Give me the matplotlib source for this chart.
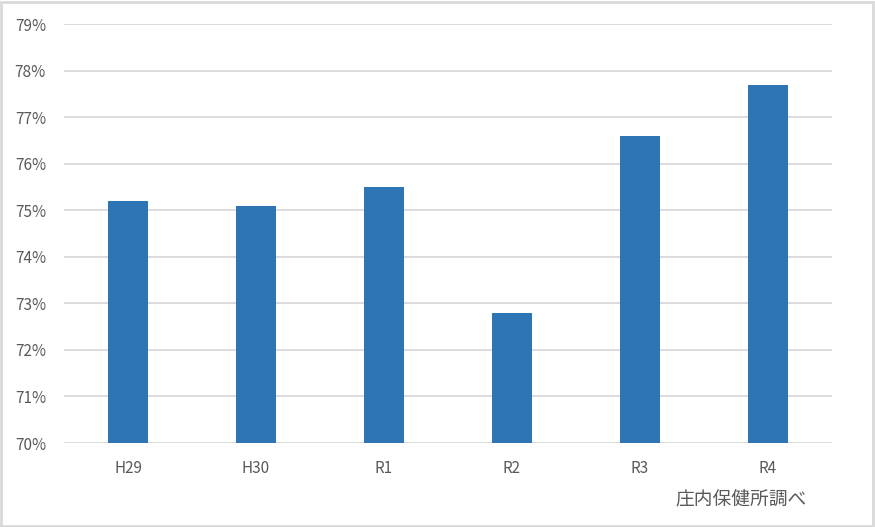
import matplotlib
matplotlib.use('Agg')
import matplotlib.pyplot as plt
from matplotlib.patches import Rectangle
from matplotlib.ticker import FuncFormatter

plt.rcParams['font.family'] = ['Noto Sans CJK JP', 'DejaVu Sans']

# ── データ ────────────────────────────────
years = ["H29", "H30", "R1", "R2", "R3", "R4"]
rates = [75.2, 75.1, 75.5, 72.8, 76.6, 77.7]   # %
source_note = "庄内保健所調べ"

BAR_COLOR = "#2e75b6"
GRID_COLOR = "#d9d9d9"
TEXT_COLOR = "#595959"

fig = plt.figure(figsize=(8.75, 5.27), dpi=100)
ax = fig.add_axes([64 / 875, 1 - 443 / 527, 768 / 875, 419 / 527])

x = range(len(years))
ax.bar(x, rates, width=0.31, color=BAR_COLOR, zorder=3)

ax.set_xlim(-0.5, len(years) - 0.5)
ax.set_ylim(70, 79)
ax.set_yticks(range(70, 80))
ax.yaxis.set_major_formatter(FuncFormatter(lambda v, _: f"{v:.0f}%"))
ax.set_xticks(list(x))
ax.set_xticklabels(years)

ax.grid(axis='y', color=GRID_COLOR, linewidth=1.3, zorder=0)
for s in ax.spines.values():
    s.set_visible(False)
ax.tick_params(length=0, colors=TEXT_COLOR, labelsize=11)
ax.tick_params(axis='x', pad=12)
ax.tick_params(axis='y', pad=13)

fig.text(741 / 875, 1 - 500 / 527, source_note, ha='center', va='center',
         fontsize=13.5, color=TEXT_COLOR)

# 外枠
fig.patches.append(Rectangle((0.001, 0.002), 0.997, 0.995, transform=fig.transFigure,
                             fill=False, edgecolor=GRID_COLOR, linewidth=2))

fig.savefig("out.png", dpi=100)
